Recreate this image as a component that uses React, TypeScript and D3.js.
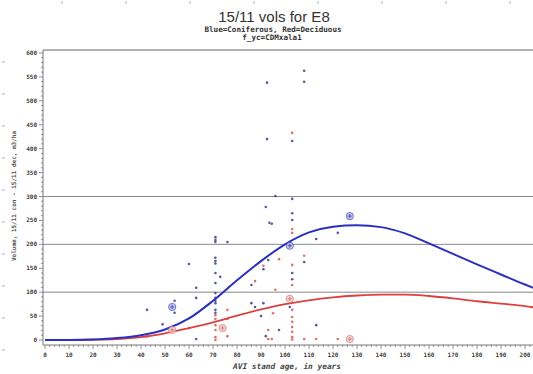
import React, { useRef, useEffect } from "react";
import * as d3 from "d3";

// fitted curves (age -> volume m3/ha)
const curveAges = [0, 10, 20, 30, 40, 50, 60, 70, 80, 90, 100, 110, 120, 130, 140, 150, 160, 170, 180, 190, 200, 204];
const conCurve = [0, 0, 1, 4, 10, 22, 45, 82, 125, 165, 200, 225, 237, 240, 236, 223, 202, 180, 158, 137, 116, 108];
const decCurve = [0, 0, 0.5, 2, 6, 14, 25, 37, 51, 64, 75, 83, 89, 93, 95, 95, 92, 87, 81, 76, 71, 68];

// plot points: coniferous (blue)
const conAges = [92.5, 108, 108, 92.5, 103, 96, 103, 92, 103, 93.5, 94.5, 103, 108, 93, 91, 103, 103, 86, 86, 87.5, 91, 102, 90, 97.5, 92, 122, 113, 113,
  71, 71, 71, 76, 71, 71, 71, 71, 73, 60, 71, 63, 63, 71, 71, 71, 71, 54, 54, 42.5, 71, 71, 49, 63];
const conVols = [538, 563, 540, 420, 416, 301, 295, 278, 265, 245, 243, 251, 163, 167, 148, 140, 127, 115, 77, 69, 77, 69, 50, 21, 8, 224, 211, 31,
  215, 209, 205, 205, 172, 165, 160, 140, 132, 159, 119, 109, 88, 98, 88, 82, 77, 82, 57, 63, 63, 57, 33, 2];

// plot points: deciduous (red)
const decAges = [103, 103, 103, 97.5, 103, 91, 87.5, 103, 96, 95, 103, 103, 103, 103, 103, 103, 103, 93, 93, 94.5, 108, 108, 113, 122,
  76, 76, 71, 71, 71, 71, 71, 71, 60, 42.5, 76];
const decVols = [433, 232, 224, 169, 157, 155, 123, 115, 105, 56, 63, 48, 38, 27, 17, 6, 1, 21, 2, 2, 176, 2, 2, 2,
  63, 44, 52, 44, 31, 21, 6, 0, 25, 8, 8];

// circled points
const conBigAges = [127, 53, 102];
const conBigVols = [259, 69, 197];
const decBigAges = [102, 127, 74, 53];
const decBigVols = [86, 2, 25, 21];

const gridVals = [100, 200, 300];

const App = () => {
  const svgRef = useRef(null);

  useEffect(() => {
    const svg = d3.select(svgRef.current);
    svg.selectAll("*").remove();

    const W = 533;
    const H = 374;
    const left = 43;
    const top = 50;
    const bottom = 345;

    const x = d3.scaleLinear().domain([0, 200]).range([45, 525]);
    const y = d3.scaleLinear().domain([0, 600]).range([340, 53]);

    svg.append("rect").attr("width", W).attr("height", H).attr("fill", "#fff");

    // faint dotted page border marks
    svg.selectAll(".lm").data(d3.range(62, 360, 32)).enter().append("line")
      .attr("x1", 2).attr("x2", 5).attr("y1", (d) => d).attr("y2", (d) => d)
      .attr("stroke", "#9bb3e0").attr("stroke-width", 1);
    svg.selectAll(".tm").data(d3.range(62, 533, 64)).enter().append("line")
      .attr("x1", (d) => d).attr("x2", (d) => d).attr("y1", 1).attr("y2", 4)
      .attr("stroke", "#9bb3e0").attr("stroke-width", 1);

    // title
    svg.append("text").attr("x", 274).attr("y", 22).attr("text-anchor", "middle")
      .attr("font-family", "Liberation Sans, Arial, sans-serif").attr("font-size", 15)
      .attr("fill", "#333").text("15/11 vols for E8");
    svg.append("text").attr("x", 273).attr("y", 32).attr("text-anchor", "middle")
      .attr("font-family", "DejaVu Sans Mono, monospace").attr("font-weight", "bold").attr("font-size", 7.6)
      .attr("fill", "#333").text("Blue=Coniferous, Red=Deciduous");
    svg.append("text").attr("x", 272).attr("y", 40).attr("text-anchor", "middle")
      .attr("font-family", "DejaVu Sans Mono, monospace").attr("font-weight", "bold").attr("font-size", 7.6)
      .attr("fill", "#333").text("f_yc=CDMxala1");

    // frame
    svg.append("line").attr("x1", left).attr("x2", W).attr("y1", top).attr("y2", top)
      .attr("stroke", "#999").attr("stroke-width", 1.5);
    svg.append("line").attr("x1", left).attr("x2", left).attr("y1", top).attr("y2", bottom)
      .attr("stroke", "#777").attr("stroke-width", 1);
    svg.append("line").attr("x1", left).attr("x2", W).attr("y1", bottom).attr("y2", bottom)
      .attr("stroke", "#777").attr("stroke-width", 1);

    // reference lines
    svg.selectAll(".grid").data(gridVals).enter().append("line")
      .attr("x1", left).attr("x2", W).attr("y1", (d) => y(d)).attr("y2", (d) => y(d))
      .attr("stroke", "#888").attr("stroke-width", 1);

    // y axis ticks
    svg.selectAll(".ymin").data(d3.range(0, 601, 10)).enter().append("line")
      .attr("x1", (d) => (d % 50 === 0 ? left - 4 : left - 2)).attr("x2", left)
      .attr("y1", (d) => y(d)).attr("y2", (d) => y(d))
      .attr("stroke", "#777").attr("stroke-width", 0.8);
    svg.selectAll(".ylab").data(d3.range(0, 601, 50)).enter().append("text")
      .attr("x", left - 6).attr("y", (d) => y(d) + 2).attr("text-anchor", "end")
      .attr("font-family", "DejaVu Sans Mono, monospace").attr("font-weight", "bold").attr("font-size", 6)
      .attr("fill", "#444").text((d) => d);

    // x axis ticks
    svg.selectAll(".xmin").data(d3.range(0, 204, 2)).enter().append("line")
      .attr("x1", (d) => x(d)).attr("x2", (d) => x(d))
      .attr("y1", bottom).attr("y2", (d) => (d % 10 === 0 ? bottom + 4 : bottom + 2))
      .attr("stroke", "#777").attr("stroke-width", 0.8);
    svg.selectAll(".xlab").data(d3.range(0, 201, 10)).enter().append("text")
      .attr("x", (d) => x(d)).attr("y", 357).attr("text-anchor", "middle")
      .attr("font-family", "DejaVu Sans Mono, monospace").attr("font-weight", "bold").attr("font-size", 6)
      .attr("fill", "#444").text((d) => d);

    // axis titles
    svg.append("text").attr("x", 287).attr("y", 369).attr("text-anchor", "middle")
      .attr("font-family", "DejaVu Sans Mono, monospace").attr("font-weight", "bold").attr("font-style", "italic")
      .attr("font-size", 7.8).attr("fill", "#444").text("AVI stand age, in years");
    svg.append("text").attr("transform", "translate(16,196) rotate(-90)").attr("text-anchor", "middle")
      .attr("font-family", "DejaVu Sans Mono, monospace").attr("font-weight", "bold")
      .attr("font-size", 6).attr("fill", "#555").text("Volume, 15/11 con - 15/11 dec, m3/ha");

    // scatter points
    const conPts = conAges.map((a, i) => [a, conVols[i]]);
    const decPts = decAges.map((a, i) => [a, decVols[i]]);
    svg.selectAll(".dp").data(decPts).enter().append("circle")
      .attr("cx", (d) => x(d[0])).attr("cy", (d) => y(d[1])).attr("r", 1.3)
      .attr("fill", "#d9584f").attr("opacity", 0.85);
    svg.selectAll(".cp").data(conPts).enter().append("circle")
      .attr("cx", (d) => x(d[0])).attr("cy", (d) => y(d[1])).attr("r", 1.3)
      .attr("fill", "#35408a").attr("opacity", 0.85);

    // curves
    const line = d3.line().x((d) => x(d[0])).y((d) => y(d[1])).curve(d3.curveMonotoneX);
    svg.append("path").datum(curveAges.map((a, i) => [a, decCurve[i]]))
      .attr("d", line).attr("fill", "none").attr("stroke", "#d9423f").attr("stroke-width", 1.8);
    svg.append("path").datum(curveAges.map((a, i) => [a, conCurve[i]]))
      .attr("d", line).attr("fill", "none").attr("stroke", "#2b2fbf").attr("stroke-width", 2);

    // circled points
    const bigMark = (ages, vols, stroke, fill) => {
      const g = svg.selectAll(null).data(ages.map((a, i) => [a, vols[i]])).enter().append("g")
        .attr("transform", (d) => `translate(${x(d[0])},${y(d[1])})`);
      g.append("circle").attr("r", 3.6).attr("fill", fill).attr("stroke", stroke).attr("stroke-width", 1).attr("opacity", 0.8);
      g.append("path").attr("d", "M-2,0H2M0,-2V2").attr("stroke", stroke).attr("stroke-width", 1);
    };
    bigMark(decBigAges, decBigVols, "#d97a7a", "#f3d0d0");
    bigMark(conBigAges, conBigVols, "#4a50c0", "#b8bde8");
  }, []);

  return (
    <div style={{ position: "absolute", left: 0, top: 0 }}>
      <svg ref={svgRef} width={533} height={374} style={{ display: "block" }}></svg>
    </div>
  );
};

export default App;
